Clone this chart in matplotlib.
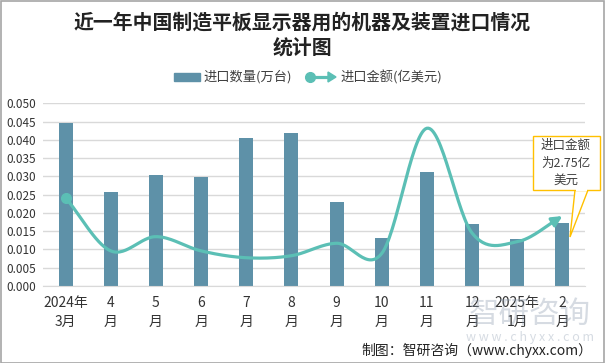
import numpy as np
import matplotlib.pyplot as plt
from matplotlib.patches import Rectangle, Polygon
from matplotlib.lines import Line2D

plt.rcParams['font.family'] = ['Noto Sans CJK SC', 'DejaVu Sans']

# data
months = ['2024年\n3月', '4\n月', '5\n月', '6\n月', '7\n月', '8\n月', '9\n月',
          '10\n月', '11\n月', '12\n月', '2025年\n1月', '2\n月']
quantity = [0.0447, 0.0257, 0.0304, 0.0299, 0.0405, 0.0419, 0.0230,
            0.0131, 0.0312, 0.0170, 0.0129, 0.0172]   # 万台
amount = [3.47, 1.38, 1.94, 1.38, 1.11, 1.19, 1.68, 1.28, 6.20, 2.08, 1.74, 2.75]  # 亿美元

bar_color = '#5E91A8'
line_color = '#5BBFB5'


def catmull_rom(x, y, n=30):
    # smooth curve through the points, like the spreadsheet's smoothed line
    x = np.asarray(x, float)
    y = np.asarray(y, float)
    px = np.concatenate([[2 * x[0] - x[1]], x, [2 * x[-1] - x[-2]]])
    py = np.concatenate([[2 * y[0] - y[1]], y, [2 * y[-1] - y[-2]]])
    xs, ys = [], []
    t = np.linspace(0, 1, n, endpoint=False)
    for i in range(1, len(px) - 2):
        for p, out in ((px, xs), (py, ys)):
            p0, p1, p2, p3 = p[i - 1], p[i], p[i + 1], p[i + 2]
            out.extend(0.5 * (2 * p1 + (-p0 + p2) * t
                              + (2 * p0 - 5 * p1 + 4 * p2 - p3) * t ** 2
                              + (-p0 + 3 * p1 - 3 * p2 + p3) * t ** 3))
    xs.append(x[-1])
    ys.append(y[-1])
    return np.array(xs), np.array(ys)


fig = plt.figure(figsize=(6.05, 3.63), dpi=100)
ax = fig.add_axes([43 / 605, 77 / 363, 542 / 605, 182.7 / 363])
x = np.arange(len(months))

ax.bar(x, quantity, width=0.31, color=bar_color, zorder=2)
ax.set_xlim(-0.5, 11.5)
ax.set_ylim(0, 0.05)
ax.set_yticks(np.arange(0, 0.0501, 0.005))
ax.set_yticklabels(['%.3f' % v for v in np.arange(0, 0.0501, 0.005)], fontsize=8.5, color='#333333')
ax.set_xticks(x)
ax.set_xticklabels(months, fontsize=10, color='#333333', linespacing=1.5)
ax.tick_params(length=0, pad=5)
ax.tick_params(axis='x', pad=7)
ax.grid(axis='y', color='#D9D9D9', lw=1, zorder=0)
for s in ['top', 'right', 'left']:
    ax.spines[s].set_visible(False)
ax.spines['bottom'].set_color('#D9D9D9')

ax2 = ax.twinx()
ax2.set_ylim(0, 7.18)
ax2.axis('off')
cx, cy = catmull_rom(x, amount)
cut = len(cx) - 6
ax2.plot(cx[:cut], cy[:cut], color=line_color, lw=2.3, solid_capstyle='round', zorder=3)
ax2.plot(x[0], amount[0], 'o', color=line_color, ms=7, zorder=4)
ax2.annotate('', xy=(cx[-1], cy[-1]), xytext=(cx[cut - 1], cy[cut - 1]),
             arrowprops=dict(arrowstyle='-|>,head_length=0.6,head_width=0.3',
                             color=line_color, lw=2.3, shrinkA=0, shrinkB=0))

# title
fig.text(0.5, 1 - 22 / 363, '近一年中国制造平板显示器用的机器及装置进口情况', ha='center', va='center',
         fontsize=14.3, fontweight='bold', color='#222222')
fig.text(0.5, 1 - 47 / 363, '统计图', ha='center', va='center',
         fontsize=14.3, fontweight='bold', color='#222222')

# legend drawn by hand
fig.patches.append(Rectangle((174 / 605, 1 - 81 / 363), 26 / 605, 8 / 363,
                             transform=fig.transFigure, color=bar_color))
fig.text(203 / 605, 1 - 77 / 363, '进口数量(万台)', va='center', fontsize=9.5, color='#404040')
fig.lines.append(Line2D([310 / 605, 330 / 605], [1 - 77 / 363] * 2, transform=fig.transFigure,
                        color=line_color, lw=2.3))
fig.lines.append(Line2D([310 / 605], [1 - 77 / 363], transform=fig.transFigure,
                        color=line_color, marker='o', ms=7))
fig.patches.append(Polygon([(328 / 605, 1 - 72 / 363), (336 / 605, 1 - 77 / 363), (328 / 605, 1 - 82 / 363)],
                           transform=fig.transFigure, color=line_color))
fig.text(340 / 605, 1 - 77 / 363, '进口金额(亿美元)', va='center', fontsize=9.5, color='#404040')

# callout
fig.patches.append(Polygon([(575 / 605, 1 - 190 / 363), (570 / 605, 1 - 237 / 363), (588 / 605, 1 - 190 / 363)],
                           transform=fig.transFigure, facecolor='white', edgecolor='#FFC000', lw=1, zorder=5))
fig.patches.append(Rectangle((533 / 605, 1 - 190 / 363), 67 / 605, 54 / 363, transform=fig.transFigure,
                             facecolor='white', edgecolor='#FFC000', lw=1, zorder=6))
fig.patches.append(Rectangle((576 / 605, 1 - 191 / 363), 11 / 605, 2 / 363, transform=fig.transFigure,
                             facecolor='white', edgecolor='none', zorder=7))
fig.text(566 / 605, 1 - 163 / 363, '进口金额\n为2.75亿\n美元', ha='center', va='center', fontsize=9,
         color='#404040', linespacing=1.45, zorder=8)

# watermark and source
fig.text(530 / 605, 1 - 314 / 363, '智研咨询', ha='center', va='center', fontsize=22,
         color='#8A9AAE', alpha=0.35, zorder=10)
fig.text(530 / 605, 1 - 338 / 363, 'w w w . c h y x x . c o m', ha='center', va='center', fontsize=9,
         color='#8A9AAE', alpha=0.35, zorder=10)
fig.text(592 / 605, 1 - 350 / 363, '制图：智研咨询（www.chyxx.com）', ha='right', va='center',
         fontsize=10, color='#222222')

fig.patches.append(Rectangle((0.5 / 605, 0.5 / 363), 603.5 / 605, 361.5 / 363, transform=fig.transFigure,
                             facecolor='none', edgecolor='#A6A6A6', lw=1.2))

fig.savefig('out.png', dpi=100)
